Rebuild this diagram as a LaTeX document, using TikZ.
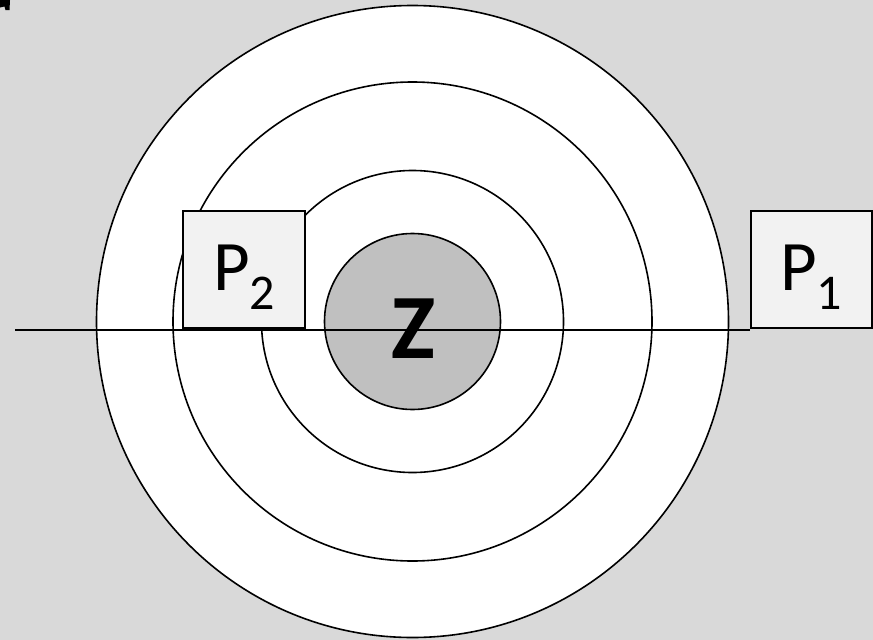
\documentclass[tikz,border=0pt]{standalone}
\usepackage{fontspec}
\setmainfont{Carlito}
\definecolor{bg}{HTML}{D9D9D9}
\definecolor{boxfill}{HTML}{F2F2F2}
\definecolor{core}{HTML}{C0C0C0}
\tikzset{
  ring/.style={draw=black, line width=1.6pt, fill=white},
  corecircle/.style={draw=black, line width=1.6pt, fill=core},
  pbox/.style={draw=black, line width=1.6pt, fill=boxfill, inner sep=0pt},
  plabel/.style={anchor=base west, inner sep=0pt, font=\fontsize{71}{71}\selectfont},
  axis/.style={draw=black, line width=1.6pt},
}
\newcommand{\psub}[1]{{\fontsize{50}{50}\selectfont\raisebox{-19pt}{#1}}}
\begin{document}
\begin{tikzpicture}[x=1pt,y=-1pt]
\fill[bg] (0,0) rectangle (873,640);
\useasboundingbox (0,0) rectangle (873,640);
% corner mark
\fill[black] (0,0) -- (10,0) -- (9.5,10) -- (5.5,10) -- (4.5,6.5) -- (0,7.5) -- cycle;
% rings
\node[ring, circle, minimum size=632pt, inner sep=0pt] (r1) at (412.5,321.5) {};
\node[ring, circle, minimum size=479pt, inner sep=0pt] (r2) at (412.5,321.5) {};
\node[ring, circle, minimum size=302pt, inner sep=0pt] (r3) at (412.5,321.5) {};
\node[corecircle, circle, minimum size=176pt, inner sep=0pt] (zc) at (412.5,321.5) {};
% boxes
\node[pbox, minimum width=122pt, minimum height=117pt] (p2) at (244,269.5) {};
\node[pbox, minimum width=121pt, minimum height=117pt] (p1) at (811.5,269.5) {};
\coordinate (lstart) at (15,330);
\draw[axis] (lstart) -- (lstart -| p1.west);
% labels
\node[plabel] (p2t) at (213,290) {P\psub{2}};
\node[plabel] (p1t) at (780,290) {P\psub{1}};
\node[anchor=base, inner sep=0pt, font=\bfseries\fontsize{92}{92}\selectfont] (z) at (413,358) {Z};
\end{tikzpicture}
\end{document}
